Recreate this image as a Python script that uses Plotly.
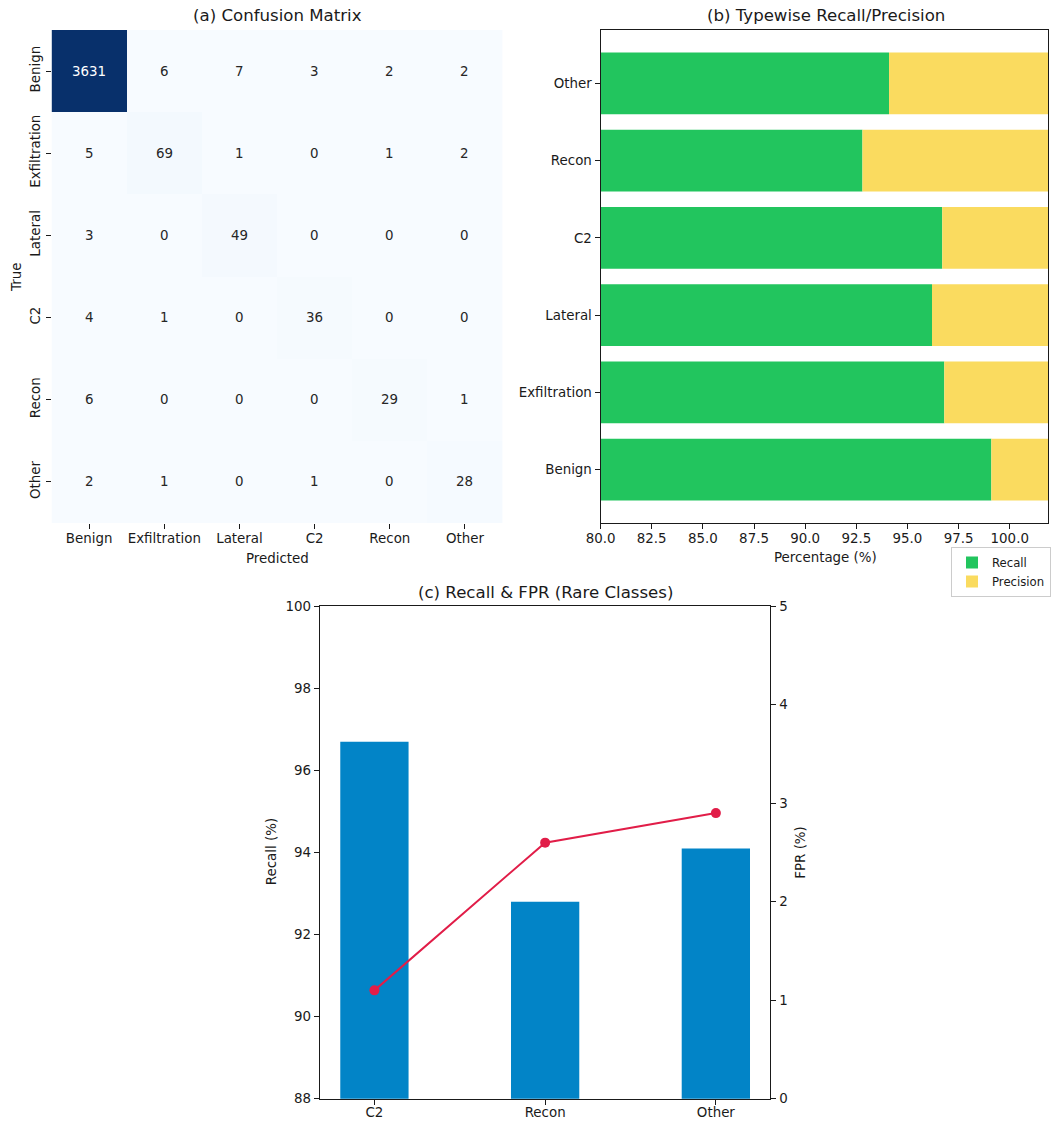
import plotly.graph_objects as go
import plotly.colors as pc

# ---- data ----
classes = ["Benign", "Exfiltration", "Lateral", "C2", "Recon", "Other"]
conf_matrix = [
    [3631, 6, 7, 3, 2, 2],
    [5, 69, 1, 0, 1, 2],
    [3, 0, 49, 0, 0, 0],
    [4, 1, 0, 36, 0, 0],
    [6, 0, 0, 0, 29, 1],
    [2, 1, 0, 1, 0, 28],
]
recall_pct = [99.1, 96.8, 96.2, 96.7, 92.8, 94.1]
precision_pct = [99.4, 89.6, 86.0, 90.0, 90.6, 84.8]

rare_classes = ["C2", "Recon", "Other"]
rare_recall = [96.7, 92.8, 94.1]
rare_fpr = [1.1, 2.6, 2.9]

# ---- style ----
W, H = 1051, 1122
FONT = "DejaVu Sans"
TXT = "#1a1a1a"
GREEN = "#22c55e"
YELLOW = "#fadb5f"
BLUE = "#0284c7"
RED = "#e11d48"
TICK = 13.4
TITLE = 16.6


def px_x(v):
    return v / W


def px_y(v):
    return 1 - v / H


fig = go.Figure()

# (a) confusion matrix heatmap
zmax = max(max(r) for r in conf_matrix)
fig.add_trace(go.Heatmap(
    z=conf_matrix, x=classes, y=classes,
    colorscale=pc.sequential.Blues, zmin=0, zmax=zmax,
    showscale=False, xaxis="x", yaxis="y", hoverinfo="skip",
))
annotations = []
for i, row in enumerate(conf_matrix):
    for j, v in enumerate(row):
        annotations.append(dict(
            x=classes[j], y=classes[i], xref="x", yref="y", text=str(v),
            showarrow=False,
            font=dict(family=FONT, size=TICK, color="white" if v > zmax * 0.5 else "#262626"),
        ))

# (b) recall with precision stacked to the right
fig.add_trace(go.Bar(
    x=recall_pct, y=classes, orientation="h", name="Recall",
    marker=dict(color=GREEN, line=dict(width=0)), width=0.8,
    xaxis="x2", yaxis="y2",
))
fig.add_trace(go.Bar(
    x=precision_pct, y=classes, base=recall_pct, orientation="h", name="Precision",
    marker=dict(color=YELLOW, line=dict(width=0)), width=0.8,
    xaxis="x2", yaxis="y2",
))

# (c) rare-class recall bars with FPR line on a secondary axis
fig.add_trace(go.Bar(
    x=rare_classes, y=rare_recall, base=0, width=0.4,
    marker=dict(color=BLUE, line=dict(width=0)), showlegend=False,
    xaxis="x3", yaxis="y3",
))
fig.add_trace(go.Scatter(
    x=rare_classes, y=rare_fpr, mode="lines+markers",
    line=dict(color=RED, width=2), marker=dict(color=RED, size=10),
    showlegend=False, xaxis="x3", yaxis="y4",
))

axis_common = dict(
    ticks="outside", ticklen=5, tickwidth=1.1, tickcolor=TXT,
    tickfont=dict(family=FONT, size=TICK, color=TXT),
    showgrid=False, zeroline=False, automargin=False,
)
boxed = dict(showline=True, linecolor=TXT, linewidth=1.1, mirror=True)

dom_top = [px_y(523), px_y(30)]

fig.update_layout(
    width=W, height=H,
    margin=dict(l=0, r=0, t=0, b=0),
    paper_bgcolor="white", plot_bgcolor="white",
    font=dict(family=FONT, color=TXT),
    barmode="overlay",
    xaxis=dict(domain=[px_x(51.7), px_x(504)], anchor="y", showline=False,
               ticklabelstandoff=-2, **axis_common),
    yaxis=dict(domain=dom_top, anchor="x", autorange="reversed", tickangle=-90,
               showline=False, **axis_common),
    xaxis2=dict(domain=[px_x(602.3), 1], anchor="y2", range=[80, 101.87],
                tick0=80, dtick=2.5, tickformat=".1f", ticklabelstandoff=-2,
                **boxed, **axis_common),
    yaxis2=dict(domain=dom_top, anchor="x2", range=[-0.69, 5.69], **boxed, **axis_common),
    xaxis3=dict(domain=[px_x(320.7), px_x(772.7)], anchor="y3", range=[-0.32, 2.32],
                ticklabelstandoff=-4, **boxed, **axis_common),
    yaxis3=dict(domain=[px_y(1098.7), px_y(606.3)], anchor="x3", range=[88, 100],
                tickvals=[88, 90, 92, 94, 96, 98, 100], **boxed, **axis_common),
    yaxis4=dict(overlaying="y3", side="right", anchor="x3", range=[0, 5],
                tickvals=[0, 1, 2, 3, 4, 5], showline=False, **axis_common),
    legend=dict(
        x=px_x(954), y=px_y(547), xanchor="left", yanchor="top",
        bgcolor="white", bordercolor="#cccccc", borderwidth=1,
        font=dict(family=FONT, size=11.7, color=TXT),
        tracegroupgap=2, itemwidth=30,
    ),
)

# titles and axis labels
def label(text, x, y, size=TICK, angle=0):
    annotations.append(dict(
        text=text, x=px_x(x), y=px_y(y), xref="paper", yref="paper",
        showarrow=False, textangle=angle, xanchor="center", yanchor="middle",
        font=dict(family=FONT, size=size, color=TXT),
    ))

label("(a) Confusion Matrix", 278, 15, TITLE)
label("(b) Typewise Recall/Precision", 828, 15, TITLE)
label("(c) Recall &amp; FPR (Rare Classes)", 546.7, 592, TITLE)
label("Predicted", 278, 558)
label("True", 17, 277, angle=-90)
label("Percentage (%)", 828, 557)
label("Recall (%)", 272, 852, angle=-90)
label("FPR (%)", 802, 852, angle=-90)

fig.update_layout(annotations=annotations)

fig.write_html("out.html")
